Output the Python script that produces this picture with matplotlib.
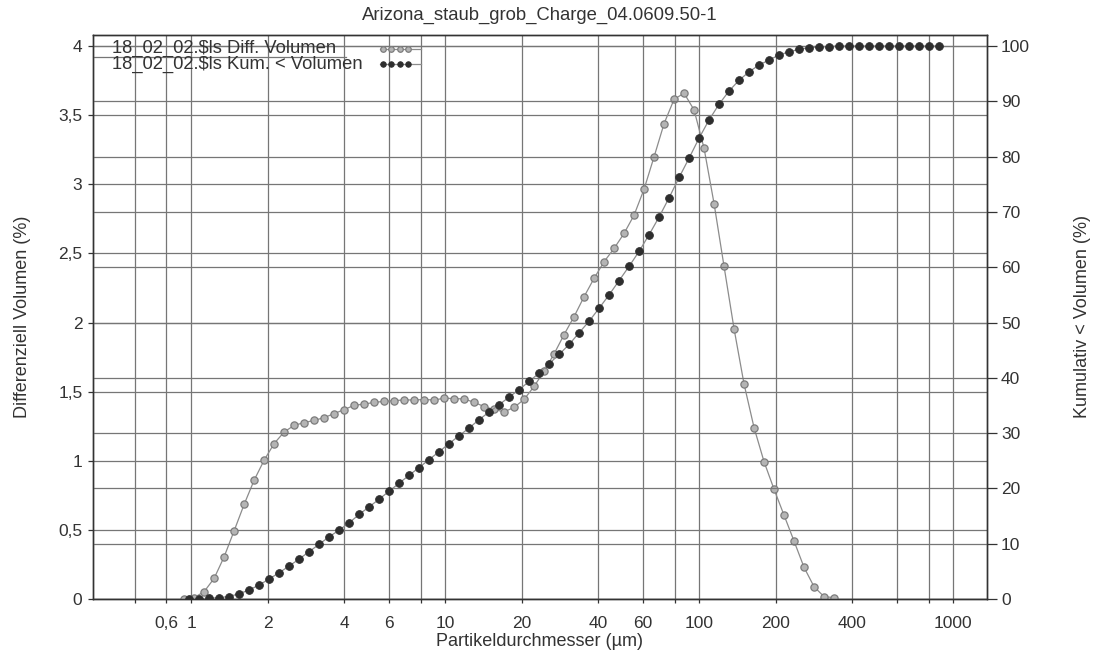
import matplotlib
matplotlib.use("Agg")
import matplotlib.pyplot as plt
from matplotlib.lines import Line2D

plt.rcParams['font.family'] = ['Liberation Sans', 'DejaVu Sans']

TITLE = "Arizona_staub_grob_Charge_04.0609.50-1"
XLABEL = "Partikeldurchmesser (µm)"
YLABEL_LEFT = "Differenziell Volumen (%)"
YLABEL_RIGHT = "Kumulativ < Volumen (%)"
LABEL_DIFF = "18_02_02.$ls Diff. Volumen"
LABEL_CUM = "18_02_02.$ls Kum. < Volumen"

# channel edges of the size classes (µm)
edges = [0.8969, 0.9820, 1.0752, 1.1772, 1.2889, 1.4111, 1.5450, 1.6916, 1.8521,
         2.0277, 2.2201, 2.4307, 2.6612, 2.9137, 3.1901, 3.4927, 3.8240, 4.1868,
         4.5839, 5.0188, 5.4948, 6.0161, 6.5867, 7.2116, 7.8956, 8.6446, 9.4645,
         10.362, 11.345, 12.421, 13.599, 14.889, 16.301, 17.848, 19.540, 21.394,
         23.423, 25.645, 28.077, 30.741, 33.656, 36.849, 40.343, 44.170, 48.359,
         52.947, 57.968, 63.467, 69.486, 76.077, 83.293, 91.195, 99.823, 109.29,
         119.66, 131.01, 143.44, 157.04, 171.94, 188.25, 206.10, 225.66, 247.06,
         270.50, 296.15, 324.25, 355.00, 388.68, 425.54, 465.91, 510.10, 558.49,
         611.46, 669.47, 732.96, 802.50, 878.61]

# differential volume per class (%), one value per class
diff_vol = [0.00, 0.01, 0.053, 0.149, 0.305, 0.493, 0.684, 0.859, 1.004, 1.124,
            1.208, 1.256, 1.276, 1.292, 1.312, 1.341, 1.370, 1.401, 1.410, 1.422,
            1.430, 1.435, 1.440, 1.440, 1.443, 1.440, 1.452, 1.450, 1.447, 1.423,
            1.392, 1.371, 1.354, 1.386, 1.444, 1.538, 1.649, 1.773, 1.913, 2.043,
            2.187, 2.320, 2.440, 2.536, 2.645, 2.777, 2.965, 3.199, 3.439, 3.615,
            3.659, 3.538, 3.261, 2.861, 2.406, 1.955, 1.555, 1.240, 0.993, 0.794,
            0.606, 0.419, 0.229, 0.089, 0.017, 0.010]

# cumulative volume below each upper class edge (%)
cum_vol = [0.0, 0.05, 0.1, 0.25, 0.45, 0.95, 1.62, 2.53, 3.61, 4.75,
           5.96, 7.22, 8.56, 9.89, 11.25, 12.45, 13.77, 15.29, 16.66, 18.05,
           19.49, 20.94, 22.38, 23.77, 25.22, 26.64, 28.10, 29.53, 30.92, 32.44,
           33.81, 35.13, 36.52, 37.85, 39.35, 40.85, 42.55, 44.22, 46.03, 48.14,
           50.23, 52.58, 55.00, 57.58, 60.16, 62.87, 65.88, 69.08, 72.56, 76.23,
           79.73, 83.34, 86.64, 89.48, 91.88, 93.81, 95.34, 96.57, 97.47, 98.38,
           98.97, 99.40, 99.70, 99.82, 99.92, 100, 100, 100, 100, 100,
           100, 100, 100, 100, 100, 100]

x_grid = [0.6, 0.8, 1, 2, 4, 6, 8, 10, 20, 40, 60, 80, 100, 200, 400, 600, 800, 1000]
x_tick_pos = [0.8, 1, 2, 4, 6, 10, 20, 40, 60, 100, 200, 400, 1000]
x_tick_lab = ["0,6", "1", "2", "4", "6", "10", "20", "40", "60", "100", "200", "400", "1000"]
left_ticks = [0, 0.5, 1, 1.5, 2, 2.5, 3, 3.5, 4]
left_labels = ["0", "0,5", "1", "1,5", "2", "2,5", "3", "3,5", "4"]
right_ticks = [0, 10, 20, 30, 40, 50, 60, 70, 80, 90, 100]

GRID = "#767676"
SPINE = "#333333"
LINE = "#8c8c8c"
TXT = "#333333"
FS = 12.5

fig = plt.figure(figsize=(10.96, 6.52), dpi=100)
ax = fig.add_axes([93 / 1096, 1 - 599 / 652, 894 / 1096, 564 / 652])
ax2 = ax.twinx()

ax.set_xscale("log")
ax.set_xlim(0.411, 1357)
ax.set_ylim(0, 4.08)
ax2.set_ylim(0, 102)

# grids on both scales
ax.set_xticks(x_grid, minor=True)
ax.xaxis.set_minor_formatter(plt.NullFormatter())
ax.set_xticks(x_tick_pos)
ax.set_xticklabels(x_tick_lab)
ax.grid(True, which="both", axis="x", color=GRID, lw=0.9)
ax.set_yticks(left_ticks)
ax.set_yticklabels(left_labels)
ax.grid(True, axis="y", color=GRID, lw=0.9)
ax2.set_yticks(right_ticks)
ax2.grid(True, axis="y", color=GRID, lw=0.9)
ax.set_axisbelow(True)
ax2.set_axisbelow(True)

ax.tick_params(axis="x", which="both", direction="out", length=3, width=0.9,
               color=SPINE, pad=9, labelsize=FS, labelcolor=TXT)
ax.tick_params(axis="y", direction="out", length=3.6, width=0.9, color=SPINE,
               pad=4, labelsize=FS, labelcolor=TXT)
ax2.tick_params(axis="y", direction="out", length=7.5, width=0.9, color=SPINE,
                pad=2.5, labelsize=FS, labelcolor=TXT)

for a in (ax, ax2):
    for s in a.spines.values():
        s.set_color(SPINE)
        s.set_linewidth(1.0)

# data
diff_x = [(edges[i] * edges[i + 1]) ** 0.5 for i in range(len(diff_vol))]
cum_x = edges[1:1 + len(cum_vol)]

diff_style = dict(color=LINE, lw=0.9, marker="o", ms=5.2, mfc="#b4b4b4",
                  mec="#7c7c7c", mew=0.9)
cum_style = dict(color=LINE, lw=0.9, marker="o", ms=5.6, mfc="#2e2e2e",
                 mec="#2e2e2e", mew=0.6)
ax.plot(diff_x, diff_vol, **diff_style, zorder=3)
ax2.plot(cum_x, cum_vol, **cum_style, zorder=3)

# legend drawn as text plus sample markers
rows = [(LABEL_DIFF, diff_style, 0.976), (LABEL_CUM, cum_style, 0.948)]
for label, style, yy in rows:
    ax2.text(0.021, yy, label, transform=ax2.transAxes, fontsize=FS + 0.7,
             color=TXT, va="center", ha="left")
    ax2.add_line(Line2D([0.321, 0.367], [yy, yy], transform=ax2.transAxes,
                        color=LINE, lw=0.9))
    sample = {k: v for k, v in style.items() if k not in ("color", "lw", "ms")}
    ax2.add_line(Line2D([0.324, 0.3335, 0.343, 0.3525], [yy] * 4,
                        transform=ax2.transAxes, ls="none", ms=4.0, **sample))
ax2.add_line(Line2D([0.0, 0.283], [0.9615, 0.9615], transform=ax2.transAxes,
                    color=GRID, lw=0.9))

ax.set_title(TITLE, fontsize=FS + 0.8, color=TXT, pad=11)
ax.set_xlabel(XLABEL, fontsize=FS + 0.5, color=TXT, labelpad=2)
ax.set_ylabel(YLABEL_LEFT, fontsize=FS + 0.5, color=TXT)
ax2.set_ylabel(YLABEL_RIGHT, fontsize=FS + 0.5, color=TXT, rotation=90)
ax.yaxis.set_label_coords(-0.0694, 0.5)
ax2.yaxis.set_label_coords(1.0973, 0.5)

fig.savefig("out.png", dpi=100)
